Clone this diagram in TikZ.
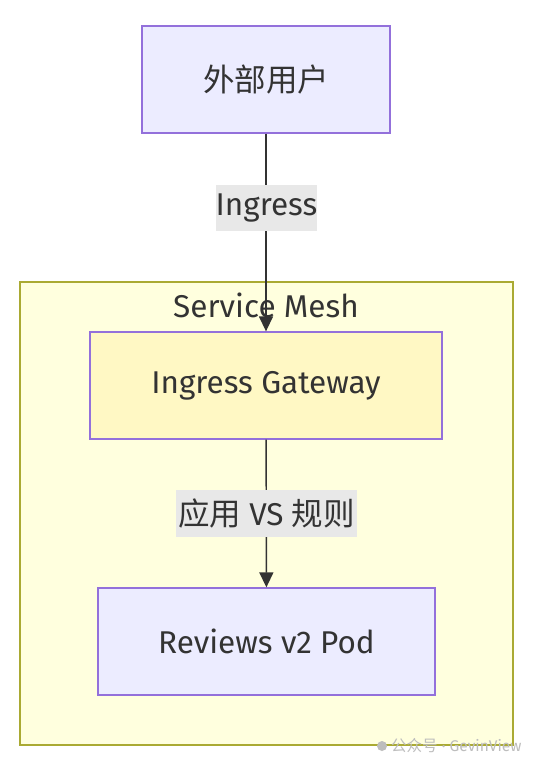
\documentclass[tikz,border=0pt]{standalone}
\usepackage{fontspec}
\setmainfont{Fira Sans}
\newfontfamily\cjk{Noto Sans CJK SC}
\usetikzlibrary{arrows.meta}
\definecolor{nodefill}{HTML}{ECECFF}
\definecolor{nodestroke}{HTML}{9370DB}
\definecolor{sgfill}{HTML}{FFFFDE}
\definecolor{sgstroke}{HTML}{AAAA33}
\definecolor{gwfill}{HTML}{FFF8C4}
\definecolor{txt}{HTML}{333333}
\definecolor{lblbg}{HTML}{E8E8E8}
\definecolor{wm}{HTML}{BDBDBD}
\tikzset{
  bigfont/.style={font=\fontsize{31.5}{36}\selectfont},
  box/.style={draw=nodestroke, fill=nodefill, line width=1.3pt, text=txt, bigfont},
  edgelbl/.style={fill=lblbg, text=txt, inner sep=0pt, bigfont},
  conn/.style={draw=txt, line width=1.4pt, -{Triangle[length=15pt,width=14pt]}},
}
\begin{document}
\begin{tikzpicture}[x=1pt,y=-1pt]
\useasboundingbox (0,0) rectangle (540,768);
\fill[white] (0,0) rectangle (540,768);
% subgraph
\draw[sgstroke, fill=sgfill, line width=1.3pt] (20,282) rectangle (513,745);
\node[text=txt, bigfont] (sglabel) at (266,305) {Service Mesh};
% nodes
\node[box, minimum width=248pt, minimum height=107pt] (user) at (266,79.5) {\cjk 外部用户};
\node[box, fill=gwfill, minimum width=352pt, minimum height=107pt] (gw) at (266,385.5) {Ingress Gateway};
\node[box, minimum width=337pt, minimum height=107pt] (pod) at (266.5,641.5) {Reviews v2 Pod};
% edges
\draw[conn] (user) -- (gw);
\draw[conn] (gw) -- (pod);
\node[edgelbl, minimum width=97pt, minimum height=46pt] (l1) at (266.5,208) {Ingress};
\node[edgelbl, minimum width=181pt, minimum height=47pt] (l2) at (266.5,513.5) {{\cjk 应用} VS {\cjk 规则}};
% watermark
\fill[wm] (382,746) circle (5pt);
\node[text=wm, anchor=west, inner sep=0pt, font=\fontsize{15.5}{18}\selectfont] (wmk) at (391,746) {{\cjk 公众号} · GevinView};
\end{tikzpicture}
\end{document}
